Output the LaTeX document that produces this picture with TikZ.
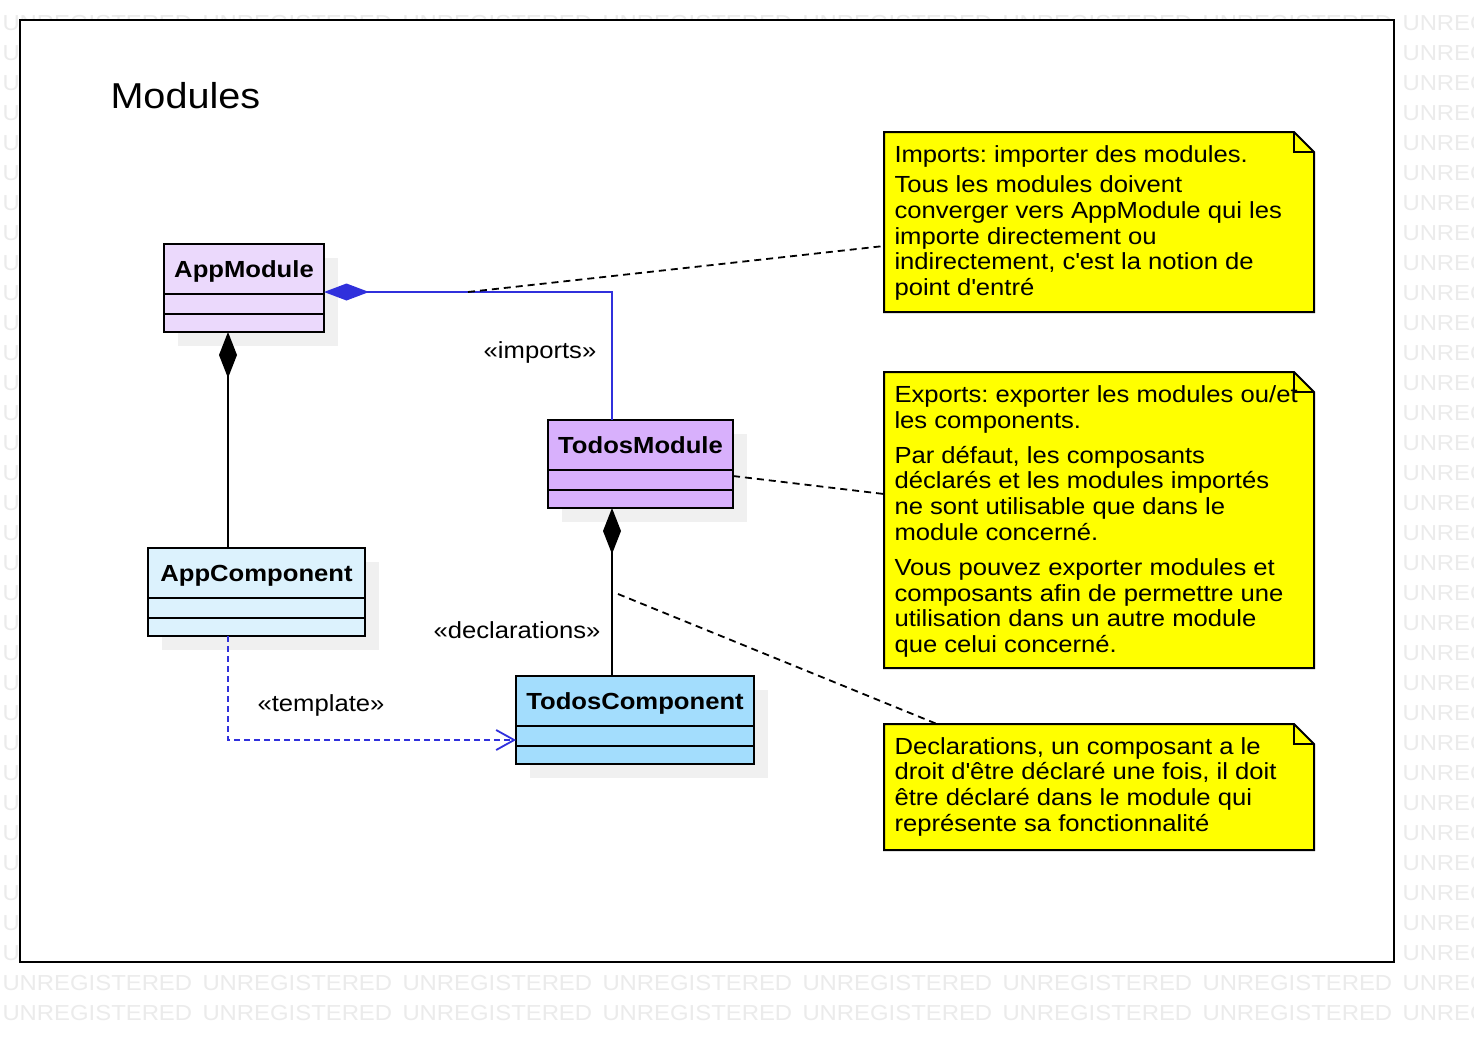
\documentclass[tikz,border=0pt]{standalone}
\usepackage{fontspec}
\setmainfont{Liberation Sans}[FakeStretch=1.1]
\usetikzlibrary{positioning,arrows.meta}
\definecolor{appmod}{RGB}{235,217,252}
\definecolor{todomod}{RGB}{216,176,252}
\definecolor{appcomp}{RGB}{220,242,253}
\definecolor{todocomp}{RGB}{163,221,253}
\definecolor{umlblue}{RGB}{48,48,220}
\definecolor{noteyellow}{RGB}{255,255,0}
\definecolor{shadowgray}{RGB}{240,240,240}
\definecolor{wmgray}{RGB}{235,235,235}
\frenchspacing

\begin{document}
\begin{tikzpicture}[x=1pt,y=-1pt,line width=2pt,
    cls/.style={draw,outer sep=0pt,inner sep=0pt,minimum height=50pt,text height=17pt,text depth=0pt,font=\bfseries\fontsize{23.3}{26}\selectfont},
    comp/.style={draw,outer sep=0pt,inner sep=0pt},
    lbl/.style={inner sep=0pt,text height=17pt,text depth=0pt,font=\fontsize{23.3}{26}\selectfont},
    notebox/.style={outer sep=0pt,inner sep=0pt,minimum width=430pt,anchor=north west},
    notetext/.style={inner sep=0pt,anchor=north west,align=left,font=\fontsize{23.3}{25.7}\selectfont},
    notelink/.style={line width=1.8pt,dash pattern=on 7pt off 5pt},
    wmark/.style={inner sep=0pt,anchor=base west,text=wmgray,font=\fontsize{21.7}{24}\selectfont}]
                \useasboundingbox (0,0) rectangle (1474,1042);
                \fill[white] (0,0) rectangle (1474,1042);
                % watermark, only where it shows
                \foreach \r in {1,...,31}
                    \node[wmark] (wm-l-\r) at (1.5,30+30*\r) {U};
                \foreach \r in {0,...,33}
                    \node[wmark] (wm-r-\r) at (1401.5,30+30*\r) {UNREGISTERED};
                \foreach \r in {0,32,33}
                    \foreach \c in {0,...,6}
                        \node[wmark] (wm-\r-\c) at (1.5+200*\c,30+30*\r) {UNREGISTERED};
                \node[draw,fill=white,outer sep=0pt,minimum width=1374pt,minimum height=942pt,anchor=north west] (frame) at (20,20) {};
                \node[inner sep=0pt,anchor=base west,font=\fontsize{36}{40}\selectfont] (title) at (109.5,108) {Modules};
                % shadows
                \fill[shadowgray] (178,258) rectangle ++(160,88);
                \fill[shadowgray] (562,434) rectangle ++(185,88);
                \fill[shadowgray] (162,562) rectangle ++(217,88);
                \fill[shadowgray] (530,690) rectangle ++(238,88);
                % classes
                \node[cls,fill=appmod,minimum width=160pt,anchor=north west] (am) at (164,244) {AppModule};
                \node[comp,fill=appmod,minimum width=160pt,minimum height=20pt,below=0pt of am] (am-attr) {};
                \node[comp,fill=appmod,minimum width=160pt,minimum height=18pt,below=0pt of am-attr] (am-ops) {};
                \node[cls,fill=todomod,minimum width=185pt,anchor=north west] (tm) at (548,420) {TodosModule};
                \node[comp,fill=todomod,minimum width=185pt,minimum height=20pt,below=0pt of tm] (tm-attr) {};
                \node[comp,fill=todomod,minimum width=185pt,minimum height=18pt,below=0pt of tm-attr] (tm-ops) {};
                \node[cls,fill=appcomp,minimum width=217pt,anchor=north west] (ac) at (148,548) {AppComponent};
                \node[comp,fill=appcomp,minimum width=217pt,minimum height=20pt,below=0pt of ac] (ac-attr) {};
                \node[comp,fill=appcomp,minimum width=217pt,minimum height=18pt,below=0pt of ac-attr] (ac-ops) {};
                \node[cls,fill=todocomp,minimum width=238pt,anchor=north west] (tc) at (516,676) {TodosComponent};
                \node[comp,fill=todocomp,minimum width=238pt,minimum height=20pt,below=0pt of tc] (tc-attr) {};
                \node[comp,fill=todocomp,minimum width=238pt,minimum height=18pt,below=0pt of tc-attr] (tc-ops) {};
                % notes
                \node[notebox,minimum height=180pt] (n1) at (884,132) {};
                \node[notebox,minimum height=296pt] (n2) at (884,372) {};
                \node[notebox,minimum height=126pt] (n3) at (884,724) {};
                \foreach \n in {n1,n2,n3} {
                    \draw[fill=noteyellow] (\n.north west) -- ([xshift=-20pt]\n.north east) -- ([yshift=-20pt]\n.north east) -- (\n.south east) -- (\n.south west) -- cycle;
                    \draw ([xshift=-20pt]\n.north east) |- ([yshift=-20pt]\n.north east);
                }
                \node[notetext] (n1-txt) at (893.5,145) {Imports: importer des modules.\\[4.3pt]Tous les modules doivent\\converger vers AppModule qui les\\importe directement ou\\indirectement, c\textquotesingle est la notion de\\point d\textquotesingle entré};
                \node[notetext] (n2-txt) at (893.5,384.7) {Exports: exporter les modules ou/et\\les components.\\[9.3pt]Par défaut, les composants\\déclarés et les modules importés\\ne sont utilisable que dans le\\module concerné.\\[9.3pt]Vous pouvez exporter modules et\\composants afin de permettre une\\utilisation dans un autre module\\que celui concerné.};
                \node[notetext] (n3-txt) at (893.5,736.3) {Declarations, un composant a le\\droit d\textquotesingle être déclaré une fois, il doit\\être déclaré dans le module qui\\représente sa fonctionnalité};
                % connectors
                \coordinate (tm-top) at ([xshift=64pt]tm.north west);
                \draw[umlblue,line width=1.5pt,{Diamond[length=45pt,width=17pt]}-] ([yshift=2pt]am.south east) -| (tm-top);
                \draw[{Diamond[length=46pt,width=18pt]}-] ([xshift=64pt]am-ops.south west) -- ([xshift=80pt]ac.north west);
                \draw[{Diamond[length=46pt,width=18pt]}-] ([xshift=64pt]tm-ops.south west) -- ([xshift=96pt]tc.north west);
                \draw[umlblue,line width=1.8pt,dash pattern=on 6pt off 4pt,-{Straight Barb[length=18pt,width=20pt]}] ([xshift=80pt]ac-ops.south west) |- ([yshift=-4pt]tc-attr.west);
                \node[lbl] (imports) at (540,350) {«imports»};
                \node[lbl] (decl) at (517,630) {«declarations»};
                \node[lbl] (tmpl) at (321,703) {«template»};
                % note links
                \coordinate (imp-pt) at (468,292);
                \coordinate (decl-pt) at (618,594);
                \draw[notelink] (imp-pt) -- ([yshift=-24pt]n1.west);
                \draw[notelink] ([yshift=4pt]tm-attr.east) -- ([yshift=26pt]n2.west);
                \draw[notelink] (decl-pt) -- ([xshift=53pt]n3.north west);
            \end{tikzpicture}
\end{document}
